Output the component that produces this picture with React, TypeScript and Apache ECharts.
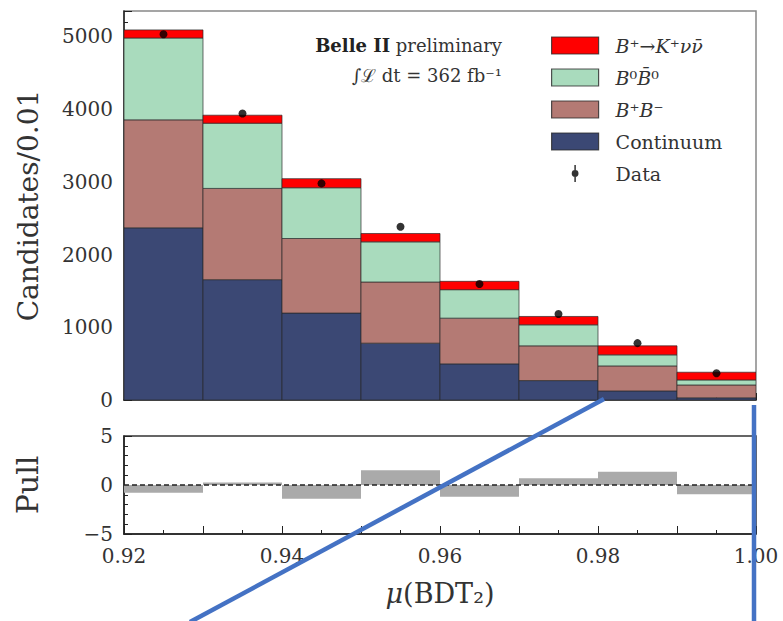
import React, { useEffect, useRef } from "react";
import * as echarts from "echarts";

// ---- data ----
const binEdges = [0.92, 0.93, 0.94, 0.95, 0.96, 0.97, 0.98, 0.99, 1.0];
const continuum = [2368, 1655, 1196, 782, 497, 267, 125, 30];
const bPlusBMinus = [1485, 1255, 1025, 841, 629, 478, 344, 177];
const b0B0bar = [1126, 897, 698, 552, 391, 289, 152, 69];
const signalKnunu = [111, 110, 125, 115, 115, 115, 124, 106];
const dataCounts = [5030, 3940, 2979, 2382, 1595, 1182, 782, 368];
const pulls = [-0.8, 0.25, -1.4, 1.5, -1.2, 0.7, 1.35, -0.95];

const NAME_SIG = "B⁺→K⁺νν̄";
const NAME_B0 = "B⁰B̄⁰";
const NAME_BPBM = "B⁺B⁻";
const NAME_CONT = "Continuum";
const NAME_DATA = "Data";

const FONT = "DejaVu Serif";
const TXT = "#333";

const components = [
  { name: NAME_CONT, values: continuum, color: "#3b4874" },
  { name: NAME_BPBM, values: bPlusBMinus, color: "#b47a74" },
  { name: NAME_B0, values: b0B0bar, color: "#a9dbbd" },
  { name: NAME_SIG, values: signalKnunu, color: "#ff0000" },
];

const legendMarkup: Record<string, string> = {
  [NAME_SIG]: "{i|B}⁺→{i|K}⁺{i|ν\u03BD\u0304}",
  [NAME_B0]: "{i|B}⁰{i|B\u0304}⁰",
  [NAME_BPBM]: "{i|B}⁺{i|B}⁻",
  [NAME_CONT]: "Continuum",
  [NAME_DATA]: "Data",
};

function rectRenderer(fill: string, stroke: string | null) {
  return (params: any, api: any) => {
    const x0 = api.value(0);
    const x1 = api.value(1);
    const y0 = api.value(2);
    const y1 = api.value(3);
    const a = api.coord([x0, Math.max(y0, y1)]);
    const b = api.coord([x1, Math.min(y0, y1)]);
    return {
      type: "rect",
      shape: { x: a[0], y: a[1], width: b[0] - a[0], height: b[1] - a[1] },
      style: stroke
        ? { fill, stroke, lineWidth: 0.9 }
        : { fill },
    };
  };
}

export default function App() {
  const ref = useRef<HTMLDivElement>(null);

  useEffect(() => {
    if (!ref.current) return;
    const chart = echarts.init(ref.current, null, { renderer: "svg" });

    let base = new Array(dataCounts.length).fill(0);
    const histSeries = components.map((c) => {
      const rows = c.values.map((v, i) => [binEdges[i], binEdges[i + 1], base[i], base[i] + v]);
      base = base.map((b, i) => b + c.values[i]);
      return {
        type: "custom",
        name: c.name,
        xAxisIndex: 0,
        yAxisIndex: 0,
        data: rows,
        encode: { x: [0, 1], y: [2, 3] },
        itemStyle: { color: c.color },
        clip: true,
        renderItem: rectRenderer(c.color, "rgba(40,40,40,0.75)"),
      };
    });

    const dataPoints = dataCounts.map((v, i) => [(binEdges[i] + binEdges[i + 1]) / 2, v]);
    const pullRows = pulls.map((p, i) => [binEdges[i], binEdges[i + 1], 0, p]);

    const legendItem = (name: string, color: string) => ({
      name,
      icon: "rect",
      itemStyle: { color, borderColor: "rgba(40,40,40,0.8)", borderWidth: 1.2 },
    });

    const option: any = {
      animation: false,
      backgroundColor: "#ffffff",
      textStyle: { fontFamily: FONT },
      grid: [
        { left: 124, top: 11, width: 632, height: 389, show: true, borderColor: "#888", borderWidth: 1.5, backgroundColor: "transparent" },
        { left: 124, top: 436, width: 632, height: 98, show: true, borderColor: "#333", borderWidth: 1.5, backgroundColor: "transparent" },
      ],
      xAxis: [
        {
          type: "value",
          gridIndex: 0,
          min: 0.92,
          max: 1.0,
          interval: 0.01,
          axisLabel: { show: false },
          axisLine: { show: true, onZero: false, lineStyle: { color: "#222", width: 1.5 } },
          axisTick: { show: true, inside: true, length: 7, lineStyle: { color: "#222" } },
          minorTick: { show: true, splitNumber: 2, length: 4, lineStyle: { color: "#222" } },
          splitLine: { show: false },
        },
        {
          type: "value",
          gridIndex: 1,
          min: 0.92,
          max: 1.0,
          interval: 0.01,
          axisLabel: {
            fontSize: 20,
            color: TXT,
            fontFamily: FONT,
            margin: 12,
            formatter: (v: number) => {
              const k = Math.round(v * 100);
              return k % 2 === 0 ? (k / 100).toFixed(2) : "";
            },
          },
          axisLine: { show: true, onZero: false, lineStyle: { color: "#222", width: 1.5 } },
          axisTick: { show: true, inside: true, length: 8, lineStyle: { color: "#222" } },
          minorTick: { show: true, splitNumber: 2, length: 4, lineStyle: { color: "#222" } },
          splitLine: { show: false },
          name: "{i|μ}(BDT₂)",
          nameLocation: "middle",
          nameGap: 46,
          nameTextStyle: {
            fontSize: 27,
            color: TXT,
            fontFamily: FONT,
            rich: { i: { fontStyle: "italic", fontSize: 27, color: TXT, fontFamily: FONT } },
          },
        },
      ],
      yAxis: [
        {
          type: "value",
          gridIndex: 0,
          min: 0,
          max: 5350,
          interval: 1000,
          axisLabel: {
            fontSize: 20,
            color: TXT,
            fontFamily: FONT,
            margin: 11,
            showMaxLabel: false,
            formatter: (v: number) => String(v),
          },
          axisLine: { show: true, lineStyle: { color: "#222", width: 1.5 } },
          axisTick: { show: true, inside: true, length: 8, lineStyle: { color: "#222" } },
          minorTick: { show: true, splitNumber: 5, length: 4, lineStyle: { color: "#222" } },
          splitLine: { show: false },
          name: "Candidates/0.01",
          nameLocation: "middle",
          nameGap: 82,
          nameTextStyle: { fontSize: 28, color: TXT, fontFamily: FONT },
        },
        {
          type: "value",
          gridIndex: 1,
          min: -5,
          max: 5,
          interval: 5,
          axisLabel: {
            fontSize: 20,
            color: TXT,
            fontFamily: FONT,
            margin: 11,
            formatter: (v: number) => (v < 0 ? "−" + Math.abs(v) : String(v)),
          },
          axisLine: { show: true, lineStyle: { color: "#222", width: 1.5 } },
          axisTick: { show: true, inside: true, length: 8, lineStyle: { color: "#222" } },
          minorTick: { show: true, splitNumber: 5, length: 4, lineStyle: { color: "#222" } },
          splitLine: { show: false },
          name: "Pull",
          nameLocation: "middle",
          nameGap: 82,
          nameTextStyle: { fontSize: 30, color: TXT, fontFamily: FONT },
        },
      ],
      legend: {
        orient: "vertical",
        left: 546,
        top: 31,
        itemWidth: 47,
        itemHeight: 17,
        itemGap: 13,
        selectedMode: false,
        symbolKeepAspect: true,
        formatter: (name: string) => legendMarkup[name] ?? name,
        textStyle: {
          fontSize: 19,
          color: TXT,
          fontFamily: FONT,
          padding: [0, 0, 0, 12],
          rich: { i: { fontStyle: "italic", fontSize: 19, color: TXT, fontFamily: FONT } },
        },
        data: [
          legendItem(NAME_SIG, "#ff0000"),
          legendItem(NAME_B0, "#a9dbbd"),
          legendItem(NAME_BPBM, "#b47a74"),
          legendItem(NAME_CONT, "#3b4874"),
          {
            name: NAME_DATA,
            icon: "path://M-0.8,-9 L0.8,-9 L0.8,9 L-0.8,9 Z M-3.6,0 A3.6,3.6 0 1,1 3.6,0 A3.6,3.6 0 1,1 -3.6,0 Z",
            itemStyle: { color: "#000", borderWidth: 0 },
          },
        ],
      },
      series: [
        ...histSeries,
        {
          type: "scatter",
          name: NAME_DATA,
          xAxisIndex: 0,
          yAxisIndex: 0,
          data: dataPoints,
          symbol: "circle",
          symbolSize: 8,
          itemStyle: { color: "#000" },
          z: 5,
        },
        {
          type: "custom",
          name: "pull",
          xAxisIndex: 1,
          yAxisIndex: 1,
          data: pullRows,
          encode: { x: [0, 1], y: [2, 3] },
          itemStyle: { color: "#aaaaaa" },
          renderItem: rectRenderer("#aaaaaa", null),
        },
        {
          type: "line",
          name: "zero",
          xAxisIndex: 1,
          yAxisIndex: 1,
          data: [[binEdges[0], 0], [binEdges[binEdges.length - 1], 0]],
          symbol: "none",
          lineStyle: { color: "#222", width: 1.5, type: [5, 3] },
          z: 5,
          silent: true,
        },
      ],
      graphic: [
        {
          type: "text",
          x: 502,
          y: 45,
          style: {
            text: "{b|Belle II} preliminary",
            align: "right",
            verticalAlign: "middle",
            fontSize: 18,
            fontFamily: FONT,
            fill: TXT,
            rich: { b: { fontWeight: "bold", fontSize: 18, fontFamily: FONT, fill: "#222" } },
          },
        },
        {
          type: "text",
          x: 502,
          y: 75,
          style: {
            text: "∫ℒ dt = 362 fb⁻¹",
            align: "right",
            verticalAlign: "middle",
            fontSize: 18,
            fontFamily: FONT,
            fill: TXT,
          },
        },
        {
          type: "line",
          shape: { x1: 604, y1: 399, x2: 190, y2: 622 },
          style: { stroke: "#4472C4", lineWidth: 4.5 },
          z: 100,
        },
        {
          type: "line",
          shape: { x1: 754, y1: 405, x2: 754, y2: 622 },
          style: { stroke: "#4472C4", lineWidth: 4.5 },
          z: 100,
        },
      ],
    };

    chart.setOption(option);
    return () => chart.dispose();
  }, []);

  return (
    <div
      ref={ref}
      style={{ position: "fixed", left: 0, top: 0, width: 783, height: 621, background: "#fff" }}
    />
  );
}
